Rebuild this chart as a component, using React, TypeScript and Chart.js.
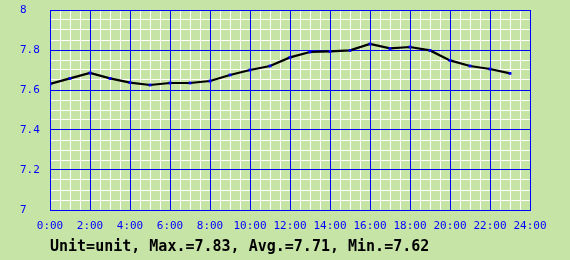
import React, { useEffect, useRef } from "react";
import { Chart, registerables } from "chart.js";

Chart.register(...registerables);

const hours = [0, 1, 2, 3, 4, 5, 6, 7, 8, 9, 10, 11, 12, 13, 14, 15, 16, 17, 18, 19, 20, 21, 22, 23];
const values = [7.63, 7.658, 7.685, 7.658, 7.637, 7.625, 7.635, 7.635, 7.645, 7.675, 7.70, 7.72, 7.763, 7.79, 7.793, 7.798, 7.83, 7.808, 7.815, 7.798, 7.748, 7.72, 7.705, 7.683];
const xMajorTicks = [0, 2, 4, 6, 8, 10, 12, 14, 16, 18, 20, 22, 24];
const yMajorTicks = [7, 7.2, 7.4, 7.6, 7.8, 8];
const footerText = "Unit=unit, Max.=7.83, Avg.=7.71, Min.=7.62";

const BG = "#c7e4a7";
const BLUE = "#0000ff";
const FONT = "'DejaVu Sans Mono', monospace";

const footerPlugin = {
  id: "footerText",
  afterDraw(chart: any) {
    const ctx = chart.ctx;
    ctx.save();
    ctx.font = `bold 15px ${FONT}`;
    ctx.fillStyle = "#000";
    ctx.textBaseline = "middle";
    ctx.textAlign = "left";
    ctx.fillText(footerText, chart.chartArea.left, 247);
    ctx.restore();
  },
};

const bgPlugin = {
  id: "bg",
  beforeDraw(chart: any) {
    const ctx = chart.ctx;
    ctx.save();
    ctx.fillStyle = BG;
    ctx.fillRect(0, 0, chart.width, chart.height);
    ctx.restore();
  },
};

function minorTicks(start: number, step: number, count: number) {
  const t = [];
  for (let i = 0; i <= count; i++) t.push({ value: start + i * step });
  return t;
}

export default function App() {
  const ref = useRef<HTMLCanvasElement>(null);
  useEffect(() => {
    document.body.style.margin = "0";
    document.body.style.background = BG;
    const chart = new Chart(ref.current!, {
      type: "line",
      data: {
        datasets: [
          {
            data: hours.map((h, i) => ({ x: h, y: values[i] })),
            xAxisID: "x",
            yAxisID: "y",
            borderColor: "#000",
            borderWidth: 2.2,
            pointStyle: "rect",
            pointRadius: 2,
            pointBackgroundColor: BLUE,
            pointBorderColor: BLUE,
            pointBorderWidth: 0,
            tension: 0,
          },
        ],
      },
      options: {
        responsive: false,
        animation: false,
        layout: { padding: { left: 20, top: 10, right: 40, bottom: 0 } },
        plugins: { legend: { display: false }, tooltip: { enabled: false }, title: { display: false } },
        scales: {
          xMinor: {
            type: "linear",
            position: "bottom",
            min: 0,
            max: 24,
            afterFit(scale: any) {
              scale.height = 0;
            },
            afterBuildTicks(scale: any) {
              scale.ticks = minorTicks(0, 0.5, 48);
            },
            ticks: { display: false, autoSkip: false },
            grid: {
              drawTicks: false,
              color: (c: any) => (c.index % 4 === 0 ? "rgba(0,0,0,0)" : "#ffffff"),
              lineWidth: 1,
              z: -3,
            },
            border: { display: false },
          },
          yMinor: {
            type: "linear",
            position: "left",
            min: 7,
            max: 8,
            afterFit(scale: any) {
              scale.width = 0;
            },
            afterBuildTicks(scale: any) {
              scale.ticks = minorTicks(7, 0.05, 20);
            },
            ticks: { display: false, autoSkip: false },
            grid: {
              drawTicks: false,
              color: (c: any) => (c.index % 4 === 0 ? "rgba(0,0,0,0)" : "#ffffff"),
              lineWidth: 1,
              z: -3,
            },
            border: { display: false },
          },
          x: {
            type: "linear",
            position: "bottom",
            min: 0,
            max: 24,
            afterFit(scale: any) {
              scale.height = 50;
            },
            afterBuildTicks(scale: any) {
              scale.ticks = xMajorTicks.map((v) => ({ value: v }));
            },
            ticks: {
              autoSkip: false,
              maxRotation: 0,
              minRotation: 0,
              padding: 10,
              color: BLUE,
              font: { family: FONT, size: 11 },
              callback: (v: any) => `${Math.round(Number(v))}:00`,
            },
            grid: { drawTicks: false, color: BLUE, lineWidth: 1, z: -1 },
            border: { display: true, color: BLUE, width: 1 },
          },
          y: {
            type: "linear",
            position: "left",
            min: 7,
            max: 8,
            afterFit(scale: any) {
              scale.width = 30;
            },
            afterBuildTicks(scale: any) {
              scale.ticks = yMajorTicks.map((v) => ({ value: v }));
            },
            ticks: {
              autoSkip: false,
              crossAlign: "far",
              padding: 0,
              color: BLUE,
              font: { family: FONT, size: 11 },
              callback: (v: any) => String(Math.round(Number(v) * 10) / 10),
            },
            grid: { drawTicks: false, color: BLUE, lineWidth: 1, z: -1 },
            border: { display: true, color: BLUE, width: 1 },
          },
        },
      } as any,
      plugins: [bgPlugin, footerPlugin],
    });
    return () => chart.destroy();
  }, []);
  return <canvas ref={ref} width={570} height={260} style={{ display: "block" }} />;
}
